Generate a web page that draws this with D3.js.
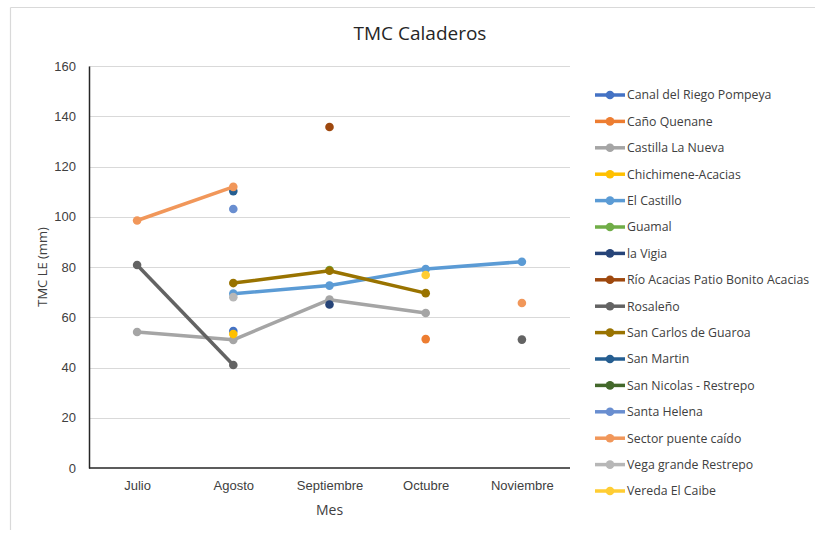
<!DOCTYPE html>
<html>
<head>
<meta charset="utf-8">
<script src="https://cdn.jsdelivr.net/npm/d3@7"></script>
<style>
  body { margin: 0; background: #fff; }
  svg { display: block; font-family: "Open Sans", "Liberation Sans", sans-serif; }
</style>
</head>
<body>
<svg id="chart" width="815" height="533"></svg>
<script>
// Months on the x axis
const months = ["Julio", "Agosto", "Septiembre", "Octubre", "Noviembre"];

// Fishing grounds (series names) and their colours
const seriesNames = [
  "Canal del Riego Pompeya", "Caño Quenane", "Castilla La Nueva", "Chichimene-Acacias",
  "El Castillo", "Guamal", "la Vigia", "Río Acacias Patio Bonito Acacias",
  "Rosaleño", "San Carlos de Guaroa", "San Martin", "San Nicolas - Restrepo",
  "Santa Helena", "Sector puente caído", "Vega grande Restrepo", "Vereda El Caibe"
];
const seriesColors = [
  "#4472C4", "#ED7D31", "#A5A5A5", "#FFC000",
  "#5B9BD5", "#70AD47", "#264478", "#9E480E",
  "#636363", "#997300", "#255E91", "#43682B",
  "#698ED0", "#F1975A", "#B7B7B7", "#FFCD33"
];

// TMC LE (mm) per month, null where no sample
const canalRiego   = [null, 54.5, null, null, null];
const canoQuenane  = [null, null, null, 51.3, null];
const castilla     = [54.1, 51.0, 67.0, 61.7, null];
const chichimene   = [null, 53.3, null, null, null];
const elCastillo   = [null, 69.4, 72.6, 79.2, 82.1];
const guamal       = [null, null, 78.8, null, null];
const laVigia      = [null, null, 65.1, null, null];
const rioAcacias   = [null, null, 135.7, null, null];
const rosaleno     = [80.8, 41.0, null, null, 51.1];
const sanCarlos    = [null, 73.6, 78.5, 69.6, null];
const sanMartin    = [null, 110.2, null, null, null];
const sanNicolas   = [null, null, null, null, null];
const santaHelena  = [null, 103.1, null, null, null];
const puenteCaido  = [98.5, 111.9, null, null, 65.7];
const vegaGrande   = [null, 68.0, null, null, null];
const veredaCaibe  = [null, null, null, 76.8, null];

const seriesValues = [
  canalRiego, canoQuenane, castilla, chichimene,
  elCastillo, guamal, laVigia, rioAcacias,
  rosaleno, sanCarlos, sanMartin, sanNicolas,
  santaHelena, puenteCaido, vegaGrande, veredaCaibe
];

const yTicks = [0, 20, 40, 60, 80, 100, 120, 140, 160];

const series = seriesNames.map((name, i) => ({
  name, color: seriesColors[i],
  values: seriesValues[i].map((v, j) => ({ month: months[j], value: v }))
}));

const svg = d3.select("#chart");
const margin = { left: 89, right: 245, top: 66, bottom: 65 };
const W = 815, H = 533;

// Chart frame (top and left edges visible)
svg.append("line").attr("x1", 10.5).attr("x2", 815).attr("y1", 7.5).attr("y2", 7.5)
  .attr("stroke", "#D9D9D9").attr("stroke-width", 1.2);
svg.append("line").attr("x1", 10.5).attr("x2", 10.5).attr("y1", 7.5).attr("y2", 530)
  .attr("stroke", "#D9D9D9").attr("stroke-width", 1.2);

const x = d3.scalePoint().domain(months).range([margin.left, W - margin.right]).padding(0.5);
const y = d3.scaleLinear().domain([0, 160]).range([H - margin.bottom, margin.top]);

// Gridlines
svg.append("g").selectAll("line").data(yTicks.slice(1)).join("line")
  .attr("x1", margin.left).attr("x2", W - margin.right)
  .attr("y1", d => Math.round(y(d)) + 0.5).attr("y2", d => Math.round(y(d)) + 0.5)
  .attr("stroke", "#D9D9D9").attr("stroke-width", 1);

// Y axis
const yAxis = svg.append("g").attr("transform", `translate(${margin.left},0)`)
  .call(d3.axisLeft(y).tickValues(yTicks).tickSize(0).tickPadding(13));
yAxis.select(".domain").attr("stroke", "#262626").attr("stroke-width", 1.5);
yAxis.selectAll("text").attr("fill", "#404040").style("font-size", "13px");

// X axis
const xAxis = svg.append("g").attr("transform", `translate(0,${H - margin.bottom})`)
  .call(d3.axisBottom(x).tickSize(0).tickPadding(13));
xAxis.select(".domain").attr("d", `M${margin.left},0H${W - margin.right}`)
  .attr("stroke", "#262626").attr("stroke-width", 1.5);
xAxis.selectAll("text").attr("fill", "#404040").style("font-size", "13px");

// Axis titles
svg.append("text").attr("x", (margin.left + W - margin.right) / 2).attr("y", 515)
  .attr("text-anchor", "middle").attr("fill", "#404040").style("font-size", "14px").text("Mes");
svg.append("text").attr("transform", `translate(47,${(margin.top + H - margin.bottom) / 2}) rotate(-90)`)
  .attr("text-anchor", "middle").attr("fill", "#404040").style("font-size", "13px").text("TMC LE (mm)");

// Title
svg.append("text").attr("x", 420).attr("y", 40).attr("text-anchor", "middle")
  .attr("fill", "#262626").style("font-size", "19px").text("TMC Caladeros");

// Lines and markers
const line = d3.line().defined(d => d.value !== null)
  .x(d => x(d.month)).y(d => y(d.value));

const g = svg.append("g");
series.forEach(s => {
  g.append("path").datum(s.values).attr("d", line)
    .attr("fill", "none").attr("stroke", s.color).attr("stroke-width", 3.5)
    .attr("stroke-linejoin", "round");
  g.selectAll(null).data(s.values.filter(d => d.value !== null)).join("circle")
    .attr("cx", d => x(d.month)).attr("cy", d => y(d.value)).attr("r", 4.3)
    .attr("fill", s.color);
});

// Legend
const legend = svg.append("g");
series.forEach((s, i) => {
  const ly = 95 + i * 26.4;
  legend.append("line").attr("x1", 595).attr("x2", 625).attr("y1", ly).attr("y2", ly)
    .attr("stroke", s.color).attr("stroke-width", 3.5);
  legend.append("circle").attr("cx", 610).attr("cy", ly).attr("r", 4.3).attr("fill", s.color);
  legend.append("text").attr("x", 627).attr("y", ly).attr("dy", "0.35em")
    .attr("fill", "#404040").style("font-size", "12.3px").text(s.name);
});
</script>
</body>
</html>
